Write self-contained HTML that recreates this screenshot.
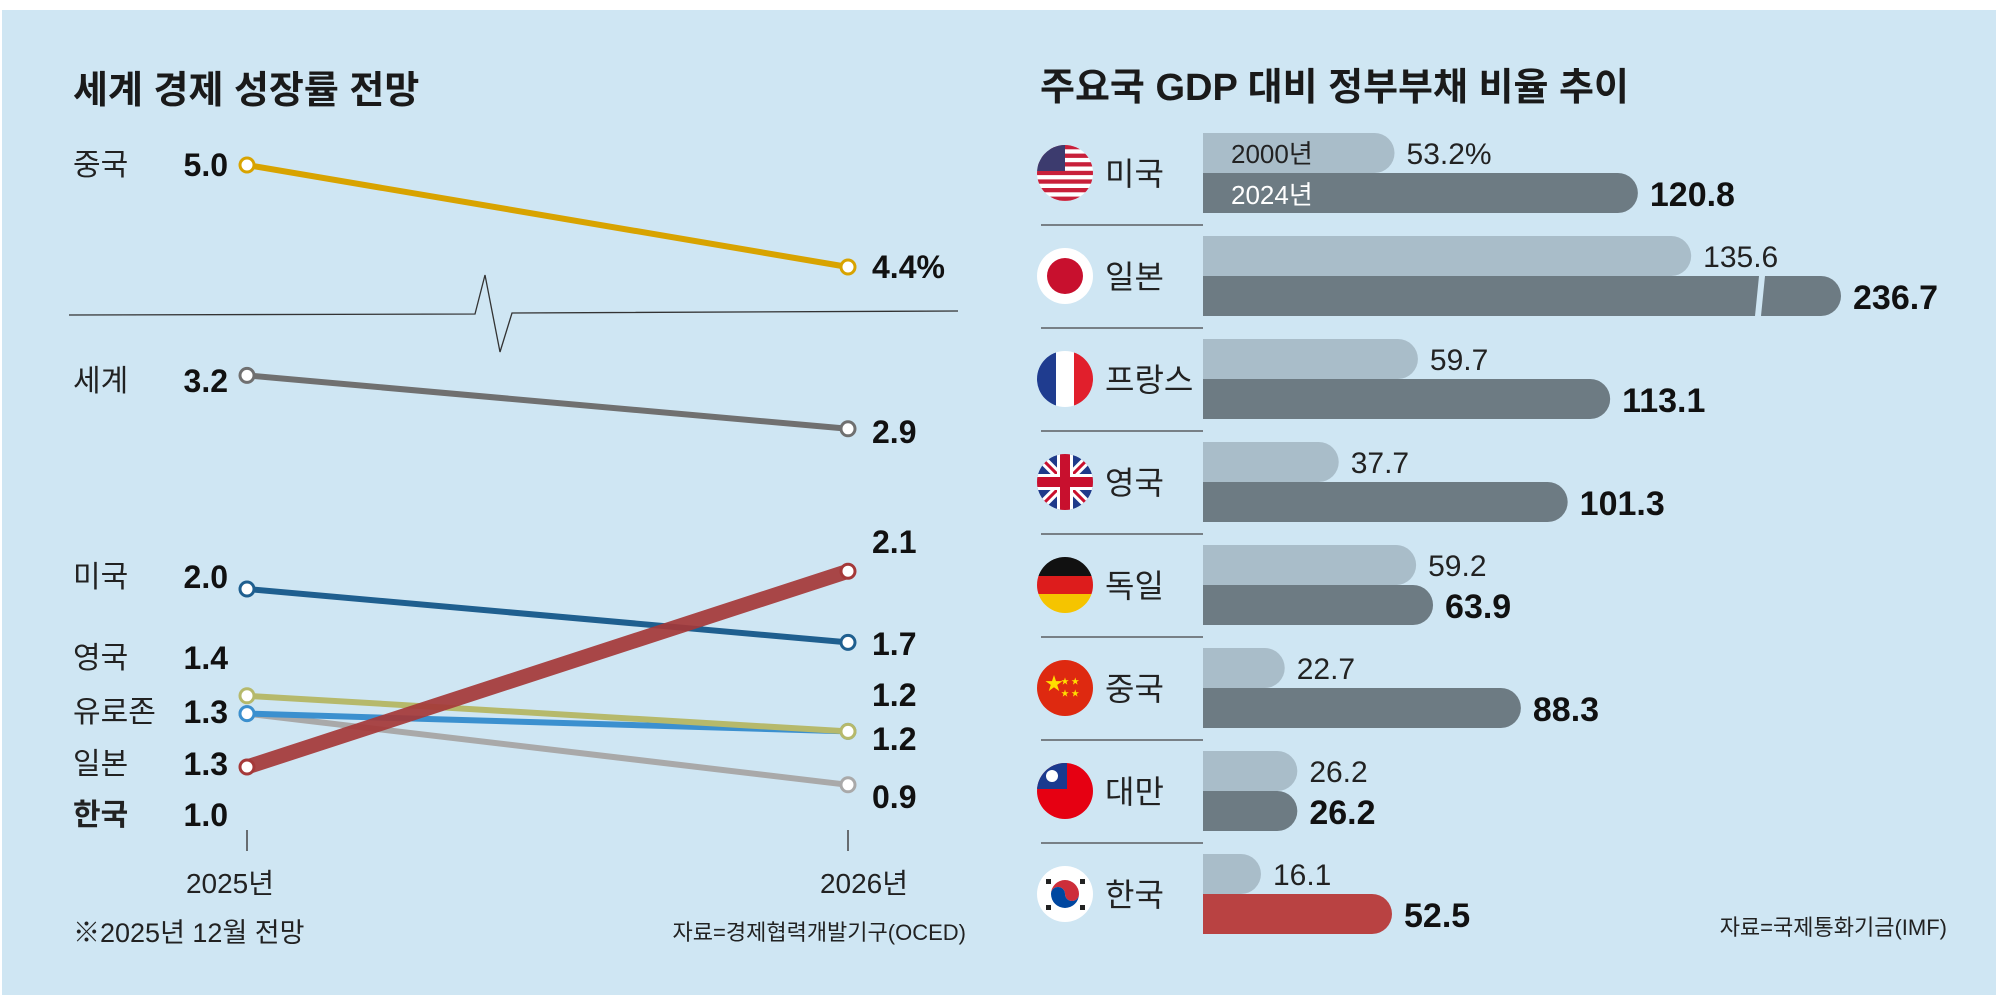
<!DOCTYPE html>
<html><head><meta charset="utf-8">
<style>
html,body{margin:0;padding:0;background:#fff;}
svg{display:block;}
text{font-family:"Liberation Sans Narrow","Liberation Sans","Noto Sans CJK KR",sans-serif;}
.kr{font-family:"Liberation Sans","Noto Sans CJK KR",sans-serif;}
</style></head>
<body>
<svg id="c" width="2006" height="1006" viewBox="0 0 2006 1006" xmlns="http://www.w3.org/2000/svg">
<rect x="2" y="10" width="1994" height="985" fill="#cfe6f3"/>
<g id="left"></g>
<g id="right"></g>
</svg>
<script>
// ---------- Left chart data ----------
const growthNames = ['중국','세계','미국','영국','유로존','일본','한국'];
const growth2025 = [5.0, 3.2, 2.0, 1.4, 1.3, 1.3, 1.0];
const growth2026 = [4.4, 2.9, 1.7, 1.2, 1.2, 0.9, 2.1];
const growthLabels2026 = ['4.4%','2.9','1.7','1.2','1.2','0.9','2.1'];
const yearLabels = ['2025년','2026년'];
// ---------- Right chart data ----------
const debtCountries = ['미국','일본','프랑스','영국','독일','중국','대만','한국'];
const debt2000 = [53.2, 135.6, 59.7, 37.7, 59.2, 22.7, 26.2, 16.1];
const debt2024 = [120.8, 236.7, 113.1, 101.3, 63.9, 88.3, 26.2, 52.5];

const NS='http://www.w3.org/2000/svg';
function mk(parent,tag,attrs,txt){const e=document.createElementNS(NS,tag);for(const k in attrs)e.setAttribute(k,attrs[k]);if(txt!==undefined)e.textContent=txt;parent.appendChild(e);return e;}

// ---------- Left chart ----------
const L=document.getElementById('left');
const x25=247, x26=848;
function yLow(v){return 767-(v-1.0)*178;}
function yChina(v){return 165-(v-5.0)*170;}
const colors=['#d8a300','#707070','#1f5f8f','#b6b96b','#3b90cf','#a9a9a9','#a53939'];
const widths=[6,6,6,6,6,6,15];
let t=mk(L,'text',{x:73,y:103,'font-size':38,'font-weight':'bold',fill:'#1a1a1a',class:'kr'},'세계 경제 성장률 전망');

// break line
let bl=mk(L,'polyline',{points:'69,315 475,314 485,275 500,352 512,313 958,311',fill:'none',stroke:'#333','stroke-width':1.3});

const order=[5,4,3,1,2,0,6];
const nameY=[165,381,577,658,712,764,815];
const v25Labels=['5.0','3.2','2.0','1.4','1.3','1.3','1.0'];
order.forEach(i=>{
  const ys=i===0?yChina:yLow;
  const y1=ys(growth2025[i]), y2=ys(growth2026[i]);
  const ln=mk(L,'line',{x1:x25,y1:y1,x2:x26,y2:y2,stroke:colors[i],'stroke-width':widths[i],'stroke-linecap':'round',opacity:i===6?0.92:1});
  
  [[x25,y1],[x26,y2]].forEach(p=>{
    const c=mk(L,'circle',{cx:p[0],cy:p[1],r:7,fill:'#fff',stroke:colors[i],'stroke-width':3});
    
  });
});
growthNames.forEach((n,i)=>{
  const ty=nameY[i];
  const a=mk(L,'text',{x:73,y:ty+10,'font-size':30,'font-weight':i===6?'bold':'normal',fill:'#222',class:'kr'},n);
  
  const b=mk(L,'text',{x:228,y:ty+11,'font-size':32,'font-weight':'bold',fill:'#111','text-anchor':'end'},v25Labels[i]);
  
});
const lab26Y=[278,443,553,655,706,750,808];
const map26=[0,1,6,2,3,4,5];
map26.forEach((gi,k)=>{
  const d=mk(L,'text',{x:872,y:lab26Y[k],'font-size':32,'font-weight':'bold',fill:'#111'},growthLabels2026[gi]);
  
});
[x25,x26].forEach((x,i)=>{
  const tk=mk(L,'line',{x1:x,y1:830,x2:x,y2:851,stroke:'#444','stroke-width':1.5});
  
  const yl=mk(L,'text',{x:i?864:230,y:893,'font-size':28,fill:'#222','text-anchor':'middle',class:'kr'},yearLabels[i]);
  
});
t=mk(L,'text',{x:73,y:942,'font-size':27,fill:'#222',class:'kr'},'※2025년 12월 전망');

t=mk(L,'text',{x:966,y:940,'font-size':22,fill:'#222','text-anchor':'end',class:'kr'},'자료=경제협력개발기구(OCED)');


// ---------- Right chart ----------
const R=document.getElementById('right');
const bx=1203, k=3.6, cap=638, rowH=103, top0=133, bh=40;
t=mk(R,'text',{x:1040,y:100,'font-size':38,'font-weight':'bold',fill:'#1a1a1a',class:'kr'},'주요국 GDP 대비 정부부채 비율 추이');

function bar(x,y,w,col,nm){
  const r=bh/2; w=Math.max(w,r+2);
  const p=mk(R,'path',{d:`M${x},${y}H${x+w-r}A${r},${r} 0 0 1 ${x+w-r},${y+bh}H${x}Z`,fill:col});
  
  return x+w;
}
function flag(i,cx,cy){
  const g=mk(R,'g',{});
  const id='fc'+i;const cp=mk(g,'clipPath',{id:id});mk(cp,'circle',{cx:cx,cy:cy,r:28});
  const h=mk(g,'g',{'clip-path':'url(#'+id+')'});
  const X=cx-28,Y=cy-28,S=56;
  if(i===0){mk(h,'rect',{x:X,y:Y,width:S,height:S,fill:'#fff'});for(let s=0;s<7;s++)mk(h,'rect',{x:X,y:Y+s*8.6,width:S,height:4.3,fill:'#c8203a'});mk(h,'rect',{x:X,y:Y,width:28,height:26,fill:'#3c3b6e'});}
  else if(i===1){mk(h,'rect',{x:X,y:Y,width:S,height:S,fill:'#fff'});mk(h,'circle',{cx:cx,cy:cy,r:18,fill:'#c8102e'});}
  else if(i===2){mk(h,'rect',{x:X,y:Y,width:19,height:S,fill:'#1f3c8f'});mk(h,'rect',{x:X+19,y:Y,width:18,height:S,fill:'#fff'});mk(h,'rect',{x:X+37,y:Y,width:19,height:S,fill:'#e11f2c'});}
  else if(i===3){mk(h,'rect',{x:X,y:Y,width:S,height:S,fill:'#1f3a8a'});mk(h,'line',{x1:X,y1:Y,x2:X+S,y2:Y+S,stroke:'#fff','stroke-width':9});mk(h,'line',{x1:X+S,y1:Y,x2:X,y2:Y+S,stroke:'#fff','stroke-width':9});mk(h,'line',{x1:X,y1:Y,x2:X+S,y2:Y+S,stroke:'#c8102e','stroke-width':3});mk(h,'line',{x1:X+S,y1:Y,x2:X,y2:Y+S,stroke:'#c8102e','stroke-width':3});mk(h,'rect',{x:X,y:cy-8,width:S,height:16,fill:'#fff'});mk(h,'rect',{x:cx-8,y:Y,width:16,height:S,fill:'#fff'});mk(h,'rect',{x:X,y:cy-5,width:S,height:10,fill:'#c8102e'});mk(h,'rect',{x:cx-5,y:Y,width:10,height:S,fill:'#c8102e'});}
  else if(i===4){mk(h,'rect',{x:X,y:Y,width:S,height:19,fill:'#111'});mk(h,'rect',{x:X,y:Y+19,width:S,height:18,fill:'#dd1c1c'});mk(h,'rect',{x:X,y:Y+37,width:S,height:19,fill:'#f5c400'});}
  else if(i===5){mk(h,'rect',{x:X,y:Y,width:S,height:S,fill:'#de2910'});mk(h,'text',{x:cx-20,y:cy+2,'font-size':18,fill:'#ffde00'},'★');mk(h,'text',{x:cx-4,y:cy-4,'font-size':8,fill:'#ffde00'},'★ ★');mk(h,'text',{x:cx-4,y:cy+8,'font-size':8,fill:'#ffde00'},'★ ★');}
  else if(i===6){mk(h,'rect',{x:X,y:Y,width:S,height:S,fill:'#e60012'});mk(h,'rect',{x:X,y:Y,width:30,height:26,fill:'#1a3a8f'});mk(h,'circle',{cx:X+15,cy:Y+13,r:6,fill:'#fff'});}
  else {mk(h,'rect',{x:X,y:Y,width:S,height:S,fill:'#fff'});mk(h,'path',{d:`M${cx-14},${cy} A14,14 0 0 1 ${cx+14},${cy} A7,7 0 0 1 ${cx},${cy} A7,7 0 0 0 ${cx-14},${cy}Z`,fill:'#cd2e3a'});mk(h,'path',{d:`M${cx-14},${cy} A14,14 0 0 0 ${cx+14},${cy} A7,7 0 0 1 ${cx},${cy} A7,7 0 0 0 ${cx-14},${cy}Z`,fill:'#0047a0'});
    [[-19,-15],[15,-15],[-19,11],[15,11]].forEach(q=>mk(h,'rect',{x:cx+q[0],y:cy+q[1],width:5,height:5,fill:'#222'}));}
}
debtCountries.forEach((n,i)=>{
  const y=top0+i*rowH;
  const e1=bar(bx,y,debt2000[i]*k,'#a9bdc9','bar-2000');
  let w2=debt2024[i]*k, broken=false;
  if(w2>cap){w2=cap;broken=true;}
  const e2=bar(bx,y+bh,w2,i===7?'#b94242':'#6d7b83','bar-2024');
  if(broken){const gp=mk(R,'polygon',{points:`${bx+556},${y+bh} ${bx+562},${y+bh} ${bx+558},${y+2*bh} ${bx+552},${y+2*bh}`,fill:'#cfe6f3'});}
  let a=mk(R,'text',{x:e1+12,y:y+31,'font-size':30,fill:'#222'},debt2000[i].toFixed(1)+(i===0?'%':''));
  
  a=mk(R,'text',{x:e2+12,y:y+bh+33,'font-size':34,'font-weight':'bold',fill:'#111'},debt2024[i].toFixed(1));
  
  flag(i,1065,y+bh);
  a=mk(R,'text',{x:1105,y:y+bh+12,'font-size':32,fill:'#222',class:'kr'},n);
  
  if(i<7){const sl=mk(R,'line',{x1:1041,y1:y+rowH-11,x2:bx,y2:y+rowH-11,stroke:'#444','stroke-width':1.3});}
});
t=mk(R,'text',{x:1231,y:163,'font-size':26,fill:'#222'},'2000년');
t=mk(R,'text',{x:1231,y:204,'font-size':26,fill:'#fff'},'2024년');
t=mk(R,'text',{x:1947,y:935,'font-size':22,fill:'#222','text-anchor':'end',class:'kr'},'자료=국제통화기금(IMF)');

</script>
</body></html>
